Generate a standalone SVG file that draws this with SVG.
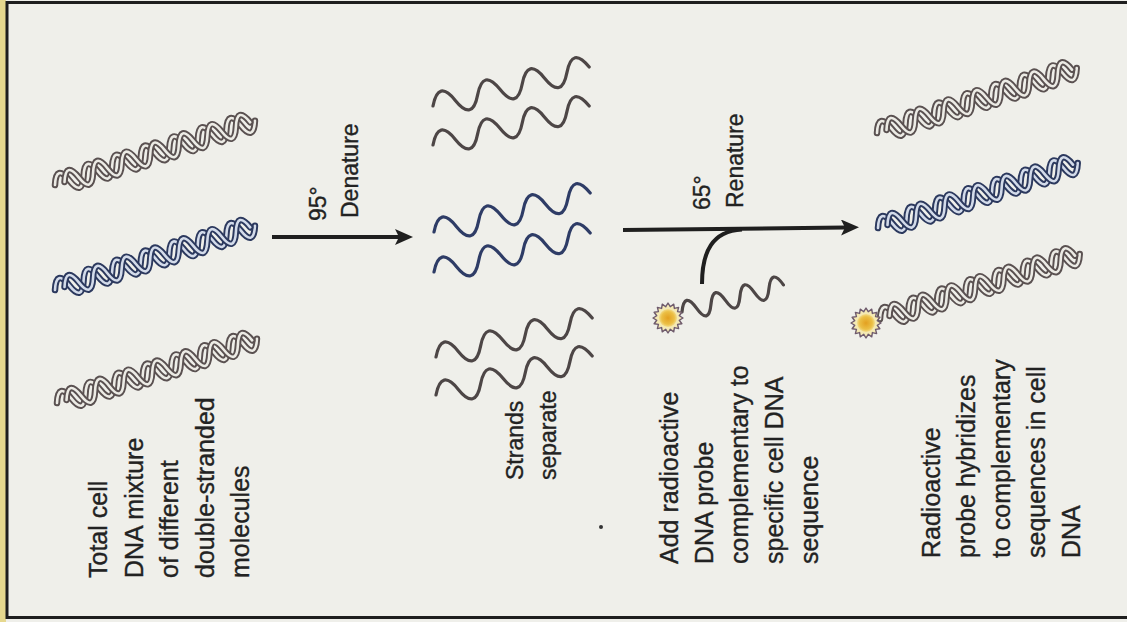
<svg xmlns="http://www.w3.org/2000/svg" xmlns:xlink="http://www.w3.org/1999/xlink" width="1127" height="622" viewBox="0 0 1127 622">
  <style>
    text { font-family: "Liberation Sans", Arial, sans-serif; fill: #222; stroke: #222; stroke-width: 0.35; }
    .cap { font-size: 25px; }
    .cap.small { font-size: 23px; }
    .lbl { font-size: 23px; }
    .o { fill: none; stroke-width: 6.5; stroke-linecap: round; stroke-linejoin: round; }
    .i { fill: none; stroke-width: 2.6; stroke-linecap: round; }
    .gray .o { stroke: #5a5151; }
    .gray .i { stroke: #ecebe5; }
    .blue .o { stroke: #2c395e; }
    .blue .i { stroke: #d3dbea; }
    .ss { fill: none; stroke-width: 3.2; stroke-linecap: round; }
    .ss.gray { stroke: #4d4646; }
    .ss.blue { stroke: #2e3c66; }
    .conn { fill: none; stroke: #1f1f1f; stroke-width: 4; }
  </style>
  <defs>
    <!-- one strand of a double helix, axis along +x, 7 turns -->
    <path id="hA" fill="none" d="M0,0 q7.5,-20 15,0 t15,0 t15,0 t15,0 t15,0 t15,0 t15,0 t15,0 t15,0 t15,0 t15,0 t15,0 t15,0 t15,0"/>
    <!-- partner strand, phase shifted -->
    <path id="hB" fill="none" d="M10,0 q7.5,-20 15,0 t15,0 t15,0 t15,0 t15,0 t15,0 t15,0 t15,0 t15,0 t15,0 t15,0 t15,0 t15,0"/>
    <!-- a single separated strand -->
    <path id="ss" fill="none" d="M0,0 q11.5,-25 23,0 t23,0 t23,0 t23,0 t23,0 t23,0 t23,0"/>
    <!-- short probe strand -->
    <path id="pr" fill="none" d="M0,0 q7.5,-20 15,0 t15,0 t15,0 t15,0 t15,0 t15,0 t15,0"/>
    <radialGradient id="core" cx="0.5" cy="0.5" r="0.5">
      <stop offset="0" stop-color="#e3a020"/>
      <stop offset="0.7" stop-color="#ebbf45"/>
      <stop offset="1" stop-color="#f3dc8a"/>
    </radialGradient>
    <!-- radioactive label -->
    <g id="sun">
      <polygon fill="#f4e9b4" stroke="#6e5a6c" stroke-width="1.4" stroke-linejoin="round"
        points="15,0 11.28,2.24 13.86,5.74 9.56,6.39 10.61,10.61 6.39,9.56 5.74,13.86 2.24,11.28 0,15 -2.24,11.28 -5.74,13.86 -6.39,9.56 -10.61,10.61 -9.56,6.39 -13.86,5.74 -11.28,2.24 -15,0 -11.28,-2.24 -13.86,-5.74 -9.56,-6.39 -10.61,-10.61 -6.39,-9.56 -5.74,-13.86 -2.24,-11.28 0,-15 2.24,-11.28 5.74,-13.86 6.39,-9.56 10.61,-10.61 9.56,-6.39 13.86,-5.74 11.28,-2.24"/>
      <circle r="9" fill="url(#core)"/>
    </g>
    <marker id="head" viewBox="0 0 18 16" markerUnits="userSpaceOnUse" markerWidth="18" markerHeight="16" refX="4" refY="8" orient="auto">
      <path d="M0,0 L18,8 L0,16 L4,8 z" fill="#1f1f1f"/>
    </marker>
  </defs>

  <!-- page and frame -->
  <rect x="0" y="0" width="1127" height="622" fill="#efefea"/>
  <rect x="0" y="0" width="6" height="622" fill="#e6d88e"/>
  <g stroke="#1e1e1e" stroke-width="3" fill="none">
    <line x1="6" y1="2.5" x2="1127" y2="2.5"/>
    <line x1="7" y1="1" x2="7" y2="619"/>
    <line x1="6" y1="617.5" x2="1127" y2="617.5"/>
  </g>

  <!-- stage 1: mixture of double-stranded molecules -->
  <g id="mixture">
    <g class="gray" transform="translate(55,185) rotate(-17.8)">
      <use href="#hA" class="o"/><use href="#hA" class="i"/><use href="#hB" class="o"/><use href="#hB" class="i"/>
    </g>
    <g class="blue" transform="translate(55,290) rotate(-17.8)">
      <use href="#hA" class="o"/><use href="#hA" class="i"/><use href="#hB" class="o"/><use href="#hB" class="i"/>
    </g>
    <g class="gray" transform="translate(57,403) rotate(-17.8)">
      <use href="#hA" class="o"/><use href="#hA" class="i"/><use href="#hB" class="o"/><use href="#hB" class="i"/>
    </g>
    <text class="cap" transform="translate(107,578) rotate(-90)">
      <tspan x="0" y="0">Total cell</tspan>
      <tspan x="0" dy="35.5">DNA mixture</tspan>
      <tspan x="0" dy="35.5">of different</tspan>
      <tspan x="0" dy="35.5">double-stranded</tspan>
      <tspan x="0" dy="35.5">molecules</tspan>
    </text>
  </g>

  <!-- stage 2: separated single strands -->
  <g id="separated">
    <use href="#ss" class="ss gray" transform="translate(433,106) rotate(-14)"/>
    <use href="#ss" class="ss gray" transform="translate(433,145) rotate(-14)"/>
    <use href="#ss" class="ss blue" transform="translate(434,232) rotate(-14)"/>
    <use href="#ss" class="ss blue" transform="translate(434,272) rotate(-14)"/>
    <use href="#ss" class="ss gray" transform="translate(436,357) rotate(-14)"/>
    <use href="#ss" class="ss gray" transform="translate(436,395) rotate(-14)"/>
    <text class="cap small" transform="translate(523,480) rotate(-90)">
      <tspan x="0" y="0">Strands</tspan>
      <tspan x="0" dy="33">separate</tspan>
    </text>
    <circle cx="601" cy="527" r="2" fill="#333"/>
  </g>

  <!-- radioactive probe -->
  <g id="probe">
    <use href="#pr" class="ss gray" transform="translate(682,312) rotate(-15)"/>
    <use href="#sun" x="668" y="318"/>
    <text class="cap" transform="translate(678,564) rotate(-90)">
      <tspan x="0" y="0">Add radioactive</tspan>
      <tspan x="0" dy="35">DNA probe</tspan>
      <tspan x="0" dy="35">complementary to</tspan>
      <tspan x="0" dy="35">specific cell DNA</tspan>
      <tspan x="0" dy="35">sequence</tspan>
    </text>
  </g>

  <!-- stage 3: renatured molecules with hybridized probe -->
  <g id="hybridized">
    <g class="gray" transform="translate(877,133) rotate(-18)">
      <use href="#hA" class="o"/><use href="#hA" class="i"/><use href="#hB" class="o"/><use href="#hB" class="i"/>
    </g>
    <g class="blue" transform="translate(878,228) rotate(-18)">
      <use href="#hA" class="o"/><use href="#hA" class="i"/><use href="#hB" class="o"/><use href="#hB" class="i"/>
    </g>
    <g class="gray" transform="translate(880,319) rotate(-18)">
      <use href="#hA" class="o"/><use href="#hA" class="i"/><use href="#hB" class="o"/><use href="#hB" class="i"/>
    </g>
    <use href="#sun" x="866" y="323"/>
    <text class="cap" transform="translate(940,558) rotate(-90)">
      <tspan x="0" y="0">Radioactive</tspan>
      <tspan x="0" dy="35">probe hybridizes</tspan>
      <tspan x="0" dy="35">to complementary</tspan>
      <tspan x="0" dy="35">sequences in cell</tspan>
      <tspan x="0" dy="35">DNA</tspan>
    </text>
  </g>

  <!-- connectors -->
  <g id="connectors">
    <line class="conn" x1="272" y1="237" x2="399" y2="237" marker-end="url(#head)"/>
    <text class="lbl" transform="translate(326,221) rotate(-90)">95°</text>
    <text class="lbl" transform="translate(358,218) rotate(-90)">Denature</text>
    <line class="conn" x1="623" y1="230" x2="845" y2="227.5" marker-end="url(#head)"/>
    <path class="conn" d="M702,284 C702,252 712,231 742,229.5"/>
    <text class="lbl" transform="translate(710,210) rotate(-90)">65°</text>
    <text class="lbl" transform="translate(743,208) rotate(-90)">Renature</text>
  </g>
</svg>
